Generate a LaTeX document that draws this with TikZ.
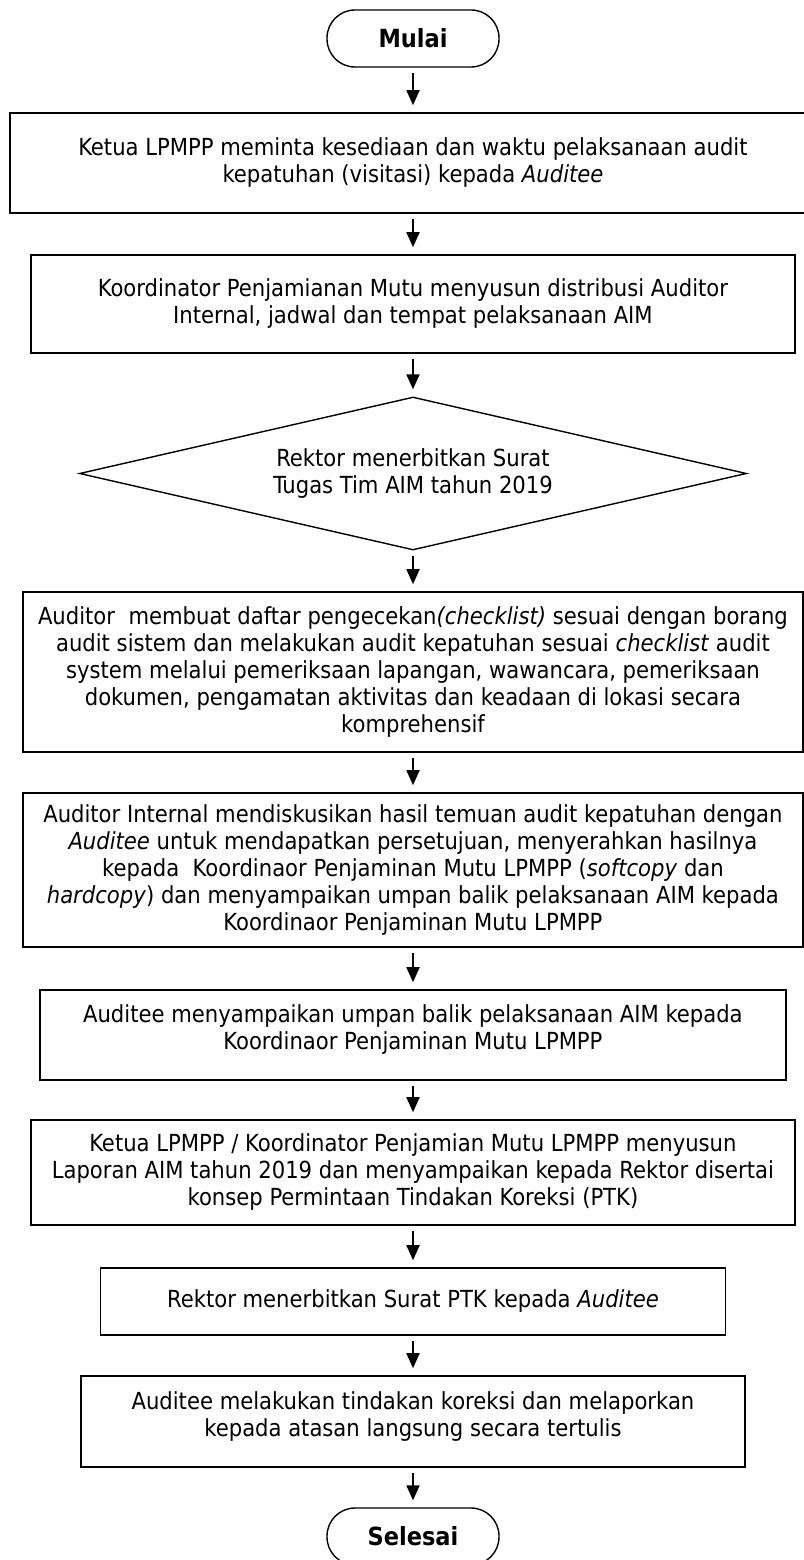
\documentclass[tikz,border=0pt]{standalone}
\usepackage{fontspec}
\setmainfont{DejaVu Sans Condensed}
\usepackage{tikz}
\usetikzlibrary{arrows.meta,shapes.geometric}
\tikzset{
    prosesbox/.style = {draw, line width=1.6pt, rectangle, align=center, inner sep=0pt,
        font=\fontsize{23.5}{27}\selectfont},
    keputusan/.style = {draw, line width=1.4pt, diamond, aspect=4.36, align=center, inner sep=0pt,
        font=\fontsize{23.5}{27}\selectfont},
    terminal/.style = {draw, line width=1.4pt, rectangle, rounded corners=28pt, align=center,
        minimum width=172pt, minimum height=57pt, font=\fontsize{25}{27}\selectfont\bfseries},
    alur/.style = {line width=1.8pt, -{Triangle[length=15pt,width=13pt]}, shorten <=5pt, shorten >=7pt}
}

\begin{document}
\begin{tikzpicture}[x=1pt,y=-1pt, line join=miter]
\useasboundingbox (0,0) rectangle (803,1560);
\node[terminal] (mulai) at (413,38.5) {Mulai};
\node[prosesbox, minimum width=806pt, minimum height=100pt] (ketua) at (413,163)
    {Ketua LPMPP meminta kesediaan dan waktu pelaksanaan audit\\ kepatuhan (visitasi) kepada \textit{Auditee}};
\node[prosesbox, minimum width=764pt, minimum height=98pt] (koord) at (413,304)
    {Koordinator Penjamianan Mutu menyusun distribusi Auditor\\ Internal, jadwal dan tempat pelaksanaan AIM};
\node[keputusan, minimum width=667pt, minimum height=153pt] (rektor) at (413,473.5)
    {Rektor menerbitkan Surat\\ Tugas Tim AIM tahun 2019};
\node[prosesbox, minimum width=780pt, minimum height=160pt] (checklist) at (413,672)
    {Auditor\ \ membuat daftar pengecekan\textit{(checklist)} sesuai dengan borang\\
     audit sistem dan melakukan audit kepatuhan sesuai \textit{checklist} audit\\
     system melalui pemeriksaan lapangan, wawancara, pemeriksaan\\
     dokumen, pengamatan aktivitas dan keadaan di lokasi secara\\
     komprehensif};
\node[prosesbox, minimum width=780pt, minimum height=154pt] (diskusi) at (413,870)
    {Auditor Internal mendiskusikan hasil temuan audit kepatuhan dengan\\
     \textit{Auditee} untuk mendapatkan persetujuan, menyerahkan hasilnya\\
     kepada\ \ Koordinaor Penjaminan Mutu LPMPP (\textit{softcopy} dan\\
     \textit{hardcopy}) dan menyampaikan umpan balik pelaksanaan AIM kepada\\
     Koordinaor Penjaminan Mutu LPMPP};
\node[prosesbox, minimum width=746pt, minimum height=90pt] (umpan) at (413,1035)
    {Auditee menyampaikan umpan balik pelaksanaan AIM kepada\\ Koordinaor Penjaminan Mutu LPMPP\\[-11pt]\mbox{}};
\node[prosesbox, minimum width=764pt, minimum height=105pt] (laporan) at (413,1172.5)
    {Ketua LPMPP / Koordinator Penjamian Mutu LPMPP menyusun\\
     Laporan AIM tahun 2019 dan menyampaikan kepada Rektor disertai\\
     konsep Permintaan Tindakan Koreksi (PTK)};
\node[prosesbox, minimum width=625pt, minimum height=67pt] (ptk) at (413,1301.5)
    {Rektor menerbitkan Surat PTK kepada \textit{Auditee}};
\node[prosesbox, minimum width=664pt, minimum height=91pt] (koreksi) at (413,1421.5)
    {Auditee melakukan tindakan koreksi dan melaporkan\\ kepada atasan langsung secara tertulis\\[-12pt]\mbox{}};
\node[terminal] (selesai) at (413,1536.5) {Selesai};

\draw[alur] (mulai) -- (ketua);
\draw[alur] (ketua) -- (koord);
\draw[alur] (koord) -- (rektor);
\draw[alur] (rektor) -- (checklist);
\draw[alur] (checklist) -- (diskusi);
\draw[alur] (diskusi) -- (umpan);
\draw[alur] (umpan) -- (laporan);
\draw[alur] (laporan) -- (ptk);
\draw[alur] (ptk) -- (koreksi);
\draw[alur] (koreksi) -- (selesai);
\end{tikzpicture}
\end{document}
